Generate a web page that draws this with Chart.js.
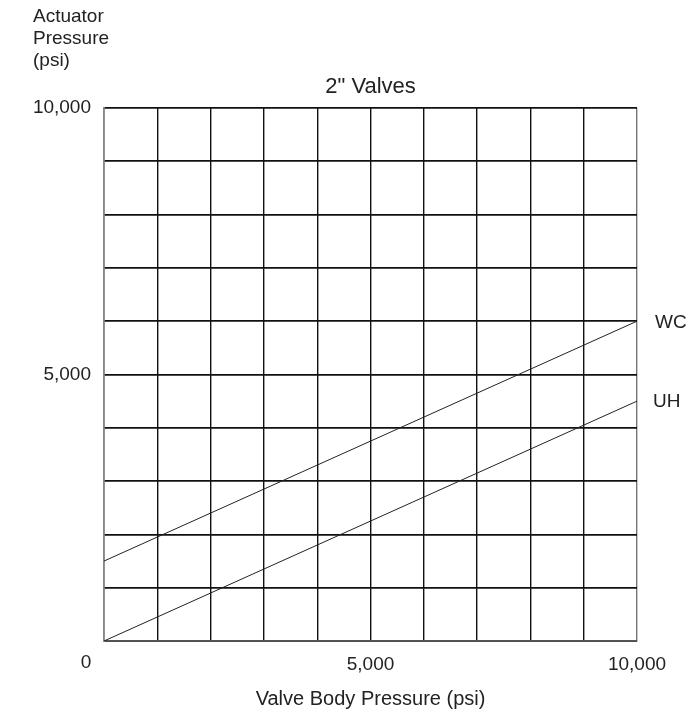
<!DOCTYPE html>
<html lang="en">
<head>
    <meta charset="UTF-8">
    <title>2" Valves</title>
    <script src="https://cdn.jsdelivr.net/npm/chart.js"></script>
    <style>
        html, body {
            margin: 0;
            padding: 0;
            background: #fff;
        }
        #wrap {
            width: 690px;
            height: 714px;
        }
    </style>
</head>
<body>
    <div id="wrap"><canvas id="valveChart"></canvas></div>
    <script>
        // values
        const bodyPressure = [0, 10000];
        const wcActuator = [1500, 6000];
        const uhActuator = [0, 4500];
        const seriesNames = ['WC', 'UH'];
        const labeledTicks = [5000, 10000];

        const fontFamily = '"Liberation Sans", Arial, sans-serif';
        const ink = '#222';

        function toPoints(xs, ys) {
            return xs.map((x, i) => ({ x: x, y: ys[i] }));
        }

        // extra texts: title, stacked y axis title, corner zero, line names
        const textPlugin = {
            id: 'extraText',
            afterDraw(chart) {
                const ctx = chart.ctx;
                const area = chart.chartArea;
                const x = chart.scales.x;
                const y = chart.scales.y;
                ctx.save();
                ctx.fillStyle = ink;
                ctx.textBaseline = 'middle';

                ctx.font = '22px ' + fontFamily;
                ctx.textAlign = 'center';
                ctx.fillText('2" Valves', (area.left + area.right) / 2, 87);

                ctx.font = '19px ' + fontFamily;
                ctx.textAlign = 'left';
                ['Actuator', 'Pressure', '(psi)'].forEach((t, i) => {
                    ctx.fillText(t, 33, 17 + i * 22);
                });

                ctx.textAlign = 'center';
                ctx.fillText('0', x.getPixelForValue(0) - 18, area.bottom + 22);

                ctx.textAlign = 'left';
                const last = bodyPressure.length - 1;
                ctx.fillText(seriesNames[0], area.right + 18, y.getPixelForValue(wcActuator[last]) + 2);
                ctx.fillText(seriesNames[1], area.right + 16, y.getPixelForValue(uhActuator[last]) + 1);
                ctx.restore();
            }
        };

        const ctx = document.getElementById('valveChart').getContext('2d');
        new Chart(ctx, {
            type: 'line',
            data: {
                datasets: [{
                    label: seriesNames[0],
                    data: toPoints(bodyPressure, wcActuator),
                    borderColor: ink,
                    borderWidth: 1,
                    pointRadius: 0,
                    fill: false
                }, {
                    label: seriesNames[1],
                    data: toPoints(bodyPressure, uhActuator),
                    borderColor: ink,
                    borderWidth: 1,
                    pointRadius: 0,
                    fill: false
                }]
            },
            options: {
                responsive: true,
                maintainAspectRatio: false,
                animation: false,
                layout: {
                    padding: { left: 0, top: 108, right: 53, bottom: 0 }
                },
                plugins: {
                    legend: { display: false },
                    tooltip: { enabled: false }
                },
                scales: {
                    x: {
                        type: 'linear',
                        min: 0,
                        max: 10000,
                        afterFit(scale) { scale.height = 73; },
                        border: { display: true, color: '#555', width: 1.5 },
                        grid: {
                            drawTicks: false,
                            color: (c) => c.tick && c.tick.value === 10000 ? '#777' : '#111',
                            lineWidth: 1.4
                        },
                        ticks: {
                            stepSize: 1000,
                            padding: 12,
                            maxRotation: 0,
                            autoSkip: false,
                            color: ink,
                            font: { family: fontFamily, size: 19 },
                            callback: (v) => labeledTicks.includes(v) ? v.toLocaleString('en-US') : ''
                        },
                        title: {
                            display: true,
                            text: 'Valve Body Pressure (psi)',
                            color: ink,
                            font: { family: fontFamily, size: 20 },
                            padding: { top: 0, bottom: 3 }
                        }
                    },
                    y: {
                        min: 0,
                        max: 10000,
                        afterFit(scale) { scale.width = 104; },
                        border: { display: true, color: '#888', width: 1.5 },
                        grid: {
                            drawTicks: false,
                            color: '#111',
                            lineWidth: 1.7
                        },
                        ticks: {
                            stepSize: 1000,
                            padding: 13,
                            autoSkip: false,
                            color: ink,
                            font: { family: fontFamily, size: 19 },
                            callback: (v) => labeledTicks.includes(v) ? v.toLocaleString('en-US') : ''
                        }
                    }
                }
            },
            plugins: [textPlugin]
        });
    </script>
</body>
</html>
